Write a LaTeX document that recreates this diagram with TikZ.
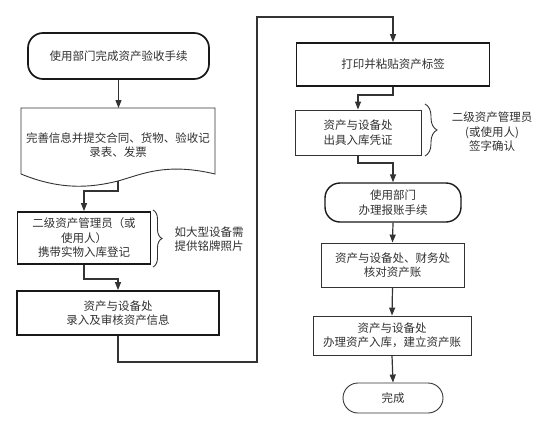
\documentclass[tikz,border=0pt]{standalone}
\usepackage{fontspec}
\newfontfamily\cjk{Noto Sans CJK SC}
\usetikzlibrary{arrows.meta,decorations.pathreplacing}
\definecolor{ln}{HTML}{333333}
\definecolor{tx}{HTML}{303030}
\tikzset{
  base/.style={draw=ln, text=tx, align=center, inner sep=0pt,
    font=\cjk\fontsize{11.5}{14.5}\selectfont},
  thinbox/.style={base, line width=0.9pt},
  thickbox/.style={base, draw=black!90, line width=1.7pt},
  term/.style={rounded corners=15pt},
  lbl/.style={text=tx, align=center, inner sep=0pt, font=\cjk\fontsize{11.5}{14.5}\selectfont},
  arr/.style={draw=ln, line width=1.2pt, -{Triangle[width=6pt,length=8pt]}},
  brc/.style={draw=ln, line width=0.9pt, decorate, decoration={brace, amplitude=#1}},
}
\begin{document}
\begin{tikzpicture}[x=1pt,y=-1pt]
\useasboundingbox (0,0) rectangle (549,426);
% left column
\node[thickbox, term, minimum width=181pt, minimum height=46pt] (b1) at (118.5,56) {使用部门完成资产验收手续};
\draw[draw=ln, line width=0.9pt] (21,108) -- (215,108) -- (215,174)
  .. controls (165,162) and (140,175) .. (118,181)
  .. controls (90,188) and (60,190) .. (21,174) -- cycle;
\node[lbl] (b2) at (118,145) {完善信息并提交合同、货物、验收记\\录表、发票};
\coordinate (docb) at (118,181);
\node[thickbox, minimum width=133pt, minimum height=52pt] (b3) at (84,238) {二级资产管理员（或\\使用人）\\携带实物入库登记};
\draw[brc=9pt] (153,210) -- (153,267);
\node[lbl] (n3) at (209,239) {如大型设备需\\提供铭牌照片};
\node[thickbox, minimum width=202pt, minimum height=44pt] (b4) at (118,313) {资产与设备处\\录入及审核资产信息};
% right column
\node[thickbox, minimum width=193pt, minimum height=43pt] (b5) at (393,64.5) {打印并粘贴资产标签};
\node[thinbox, minimum width=126pt, minimum height=45pt] (b6) at (358,132.5) {资产与设备处\\出具入库凭证};
\draw[brc=12pt] (425,104) -- (425,156);
\node[lbl] (n6) at (492,132) {二级资产管理员\\(或使用人)\\签字确认};
\node[thickbox, term, line width=1.4pt, minimum width=136pt, minimum height=39pt] (b7) at (393,202.5) {使用部门\\办理报账手续};
\node[thinbox, minimum width=143pt, minimum height=44pt] (b8) at (392.5,265) {资产与设备处、财务处\\核对资产账};
\node[thinbox, minimum width=158pt, minimum height=39pt] (b9) at (392,335.5) {资产与设备处\\办理资产入库，建立资产账};
\node[thinbox, term, minimum width=100pt, minimum height=30pt] (b10) at (393,398) {完成};
% jog points
\coordinate (j1) at (84,191);
\coordinate (j2) at (118,279);
\coordinate (j3) at (257,362);
\coordinate (j4) at (257,17);
\coordinate (j5) at (358,95);
\coordinate (j6) at (393,163);
% connectors
\draw[arr] (b1.south) -- (b1.south |- 0,108);
\draw[arr] (docb) |- (j1) -- (b3.north);
\draw[arr] (b3.south) |- (j2) -- (b4.north);
\draw[arr] (b4.south) |- (j3) -- (j4) -| (b5.north);
\draw[arr] (b5.south) |- (j5) -- (b6.north);
\draw[arr] (b6.south) |- (j6) -- (b7.north);
\draw[arr] (b7.south) -- (b8.north);
\draw[arr] (b8.south) -- (b9.north);
\draw[arr] (b9.south) -- (b10.north);
\end{tikzpicture}
\end{document}
